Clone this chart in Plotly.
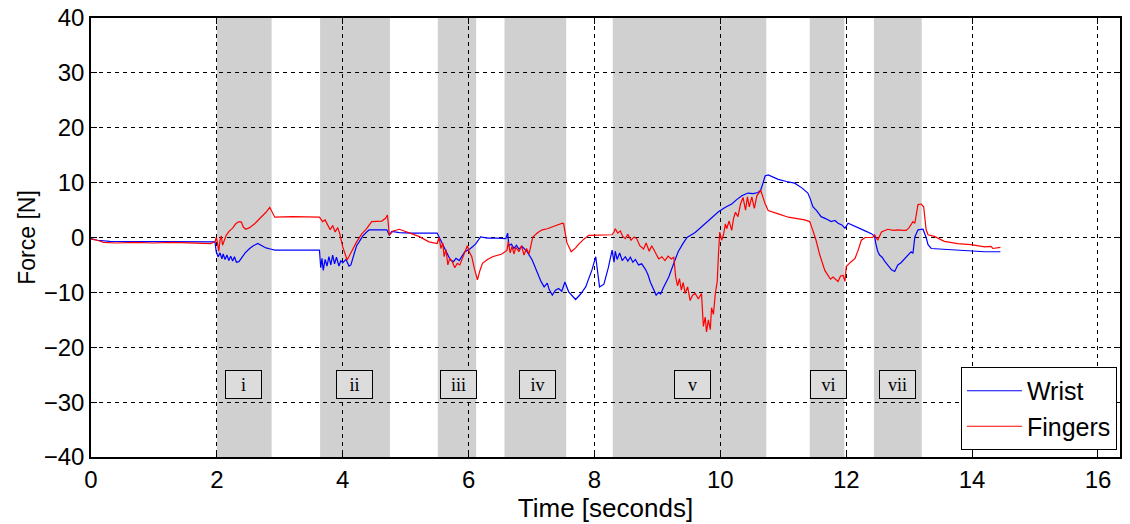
import plotly.graph_objects as go

# Wrist force trace (time in seconds, force in newtons)
wrist_t = [0, 0.1, 0.3, 0.6, 1.0, 1.4, 1.8, 1.97,
           1.99, 2.02, 2.05, 2.08, 2.1, 2.13, 2.16, 2.19, 2.22, 2.25, 2.28, 2.31, 2.35, 2.4, 2.45,
           2.52, 2.58, 2.65, 2.72, 2.78, 2.85, 2.92, 3.2, 3.63,
           3.65, 3.67, 3.69, 3.72, 3.75, 3.78, 3.81, 3.84, 3.87, 3.9, 3.94, 3.97, 4.0, 4.05, 4.1,
           4.13, 4.18, 4.22, 4.26, 4.32, 4.38, 4.42, 4.55, 4.7, 4.74, 4.78, 4.9, 5.1, 5.5,
           5.55, 5.58, 5.64, 5.68, 5.71, 5.76, 5.8, 5.85, 5.9, 5.94, 6.03, 6.11, 6.19, 6.3, 6.45,
           6.59, 6.62, 6.64, 6.68, 6.72, 6.76, 6.8, 6.85, 6.9, 6.93, 7.01, 7.09, 7.15, 7.2, 7.25,
           7.28, 7.33, 7.38, 7.43, 7.48, 7.53, 7.59, 7.7, 7.78, 7.86, 7.96, 8.02, 8.08, 8.15, 8.22,
           8.28, 8.31, 8.33, 8.36, 8.4, 8.44, 8.49, 8.53, 8.57, 8.61, 8.65, 8.7, 8.75, 8.81, 8.85,
           8.89, 8.94, 8.98, 9.02, 9.05, 9.1, 9.18, 9.25, 9.33, 9.4, 9.47, 9.6, 9.76, 9.87, 9.97,
           10.08, 10.18, 10.26, 10.34, 10.44, 10.52, 10.6, 10.64, 10.68, 10.71, 10.76, 10.84,
           10.92, 11.05, 11.18, 11.3, 11.39, 11.43, 11.47, 11.53, 11.6, 11.68, 11.76, 11.82,
           11.87, 11.93, 11.98, 12.03, 12.1, 12.19, 12.3, 12.4, 12.45, 12.47, 12.5, 12.53, 12.57,
           12.61, 12.66, 12.72, 12.77, 12.82, 12.87, 12.93, 12.98, 13.03, 13.06, 13.09, 13.14,
           13.22, 13.27, 13.3, 13.35, 13.5, 13.67, 13.98, 14.2, 14.45]
wrist_f = [-0.2, -0.5, -0.7, -0.7, -0.75, -0.7, -0.75, -0.8,
           -2.6, -3.5, -2.8, -3.9, -3.0, -4.0, -3.2, -4.2, -3.4, -4.3, -3.5, -4.5, -4.4, -3.5, -2.8,
           -2.0, -1.5, -1.1, -1.5, -1.9, -2.1, -2.3, -2.3, -2.3,
           -5.5, -3.8, -6.0, -4.0, -5.2, -3.5, -5.0, -3.2, -4.8, -3.6, -5.2, -4.2, -4.6, -4.0, -5.2,
           -5.0, -3.0, -1.5, -0.8, 0.3, 1.0, 1.4, 1.4, 1.4, 0.45, 1.1, 0.9, 0.8, 0.8,
           -0.3, -1.2, -2.3, -3.2, -4.1, -4.4, -3.8, -4.2, -3.3, -2.6, -2.0, -1.2, 0.1, -0.1, -0.1,
           -0.2, 0.8, -1.5, -1.2, -2.0, -1.4, -2.1, -1.6, -2.3, -2.6, -4.1, -6.5, -8.0, -9.0, -8.3,
           -9.5, -10.5, -9.6, -9.3, -9.8, -8.1, -9.9, -11.3, -10.3, -9.0, -5.9, -3.5, -9.0, -8.5, -5.5,
           -2.3, -4.5, -2.5, -4.0, -2.8, -4.2, -3.5, -4.3, -3.6, -4.5, -4.0, -5.0, -4.8, -5.8, -6.8,
           -8.2, -9.5, -10.5, -10.0, -10.3, -9.0, -7.2, -5.0, -2.6, -1.2, 0.0, 0.9, 2.6, 3.6, 4.7,
           5.5, 6.1, 6.9, 7.6, 8.1, 8.0, 8.2, 8.6, 10.0, 11.2, 11.4, 11.0,
           10.6, 10.2, 9.9, 9.0, 8.1, 7.0, 5.6, 4.9, 3.8, 3.4, 2.9, 3.1,
           2.6, 2.3, 1.7, 2.6, 2.2, 1.7, 1.2, 0.7, 0.2, -1.1, -2.5, -3.2, -3.6,
           -4.3, -5.0, -5.9, -6.2, -5.0, -4.6, -3.8, -3.2, -2.6, -2.9, 0.1, 1.4,
           1.5, 0.0, -1.3, -2.0, -2.1, -2.3, -2.5, -2.6, -2.6]

# Fingers force trace
fingers_t = [0, 0.1, 0.2, 0.4, 0.7, 1.0, 1.3, 1.6, 1.9, 1.97,
             1.99, 2.01, 2.03, 2.05, 2.07, 2.09, 2.12, 2.15, 2.2, 2.25, 2.3, 2.35, 2.39, 2.42, 2.46,
             2.52, 2.6, 2.7, 2.78, 2.84, 2.88, 2.92, 3.2, 3.5, 3.63, 3.68, 3.72, 3.76, 3.8, 3.84,
             3.88, 3.92, 3.95, 4.0, 4.04, 4.07, 4.12, 4.18, 4.22, 4.3, 4.38, 4.46, 4.55, 4.62, 4.68,
             4.71, 4.74, 4.8, 4.9, 5.06, 5.21, 5.37, 5.5, 5.53, 5.56, 5.59, 5.61, 5.64, 5.67, 5.7,
             5.74, 5.78, 5.82, 5.86, 5.9, 5.95, 5.98, 6.01, 6.05, 6.09, 6.14, 6.18, 6.22, 6.3, 6.38,
             6.53, 6.61, 6.63, 6.66, 6.69, 6.72, 6.75, 6.8, 6.84, 6.88, 6.92, 6.96, 6.98, 7.02, 7.1,
             7.17, 7.25, 7.33, 7.41, 7.49, 7.51, 7.56, 7.63, 7.7, 7.75, 7.83, 7.91, 8.1, 8.28, 8.31,
             8.33, 8.37, 8.41, 8.45, 8.49, 8.53, 8.58, 8.63, 8.67, 8.72, 8.78, 8.82, 8.87, 8.91, 8.95,
             9.02, 9.07, 9.12, 9.17, 9.22, 9.26, 9.29, 9.32, 9.35, 9.38, 9.41, 9.44, 9.48, 9.52, 9.56,
             9.6, 9.65, 9.7, 9.73, 9.76, 9.78, 9.81, 9.84, 9.86, 9.89, 9.92, 9.95, 9.97, 9.99, 10.02,
             10.05, 10.08, 10.1, 10.14, 10.18, 10.21, 10.24, 10.28, 10.32, 10.36, 10.4, 10.43, 10.46,
             10.5, 10.54, 10.58, 10.6, 10.64, 10.71, 10.76, 10.92, 11.08, 11.34, 11.42, 11.47, 11.52,
             11.58, 11.62, 11.66, 11.71, 11.75, 11.79, 11.83, 11.87, 11.91, 11.95, 11.98, 12.0, 12.07,
             12.14, 12.19, 12.24, 12.3, 12.42, 12.45, 12.5, 12.56, 12.66, 12.75, 12.82, 12.9, 12.95,
             13.0, 13.06, 13.09, 13.14, 13.19, 13.23, 13.27, 13.3, 13.4, 13.56, 13.77, 13.98, 14.2,
             14.3, 14.33, 14.45]
fingers_f = [-0.3, -0.5, -0.9, -1.0, -0.9, -1.0, -0.9, -1.0, -1.1, -0.8,
             0.0, -1.0, -2.5, -0.5, 0.3, -1.4, -0.3, 0.45, 1.2, 1.7, 2.5, 2.9, 2.8, 1.9, 1.5,
             1.8, 2.5, 3.6, 4.6, 5.5, 4.6, 3.7, 3.8, 3.8, 3.7, 2.9, 3.2, 2.3, 1.4, 2.2,
             1.0, 1.8, 0.8, -1.7, -3.0, -4.1, -3.0, -1.6, -0.8, 0.6, 1.6, 2.9, 2.9, 3.0, 3.5,
             4.1, 0.45, 1.2, 1.5, 0.9, 0.2, -0.8, -1.1, 0.0, -2.0, -1.0, -3.5, -2.2, -5.0, -3.8,
             -4.4, -5.5, -4.7, -5.0, -3.8, -2.3, -1.5, -2.6, -3.5, -5.6, -7.7, -6.0, -4.7, -4.0, -3.5,
             -3.0, -2.3, -0.8, -2.8, -1.6, -3.0, -1.8, -2.6, -1.5, -3.2, -2.0, -3.0, -2.0, 0.1, 0.9,
             1.4, 1.6, 1.9, 2.3, 2.6, 2.5, -0.9, -2.6, -1.9, -1.2, -0.3, 0.4, 0.5, 0.5, 1.0,
             1.6, 0.8, 1.2, 0.2, -0.2, 0.6, -0.5, 0.1, -0.2, -1.5, -2.1, -1.0, -2.5, -1.5, -2.3,
             -3.9, -3.5, -4.2, -3.4, -3.9, -3.6, -7.2, -8.8, -7.5, -9.6, -8.2, -10.2, -9.0, -11.5, -10.5,
             -10.2, -11.2, -10.2, -16.2, -14.5, -17.2, -15.0, -16.8, -12.8, -14.0, -10.2, -8.0, -3.0, 1.0, -0.5,
             0.5, 2.5, 1.6, 3.0, 1.3, 3.5, 4.6, 3.8, 6.1, 7.3, 5.0, 7.4, 5.6,
             7.4, 5.3, 7.6, 8.0, 8.6, 6.2, 4.9, 4.3, 3.7, 3.2, 2.9, 1.3, -0.5,
             -3.2, -4.5, -6.0, -6.9, -7.6, -7.2, -7.6, -8.0, -7.0, -6.9, -8.0, -5.3, -4.5,
             -3.8, -2.3, -0.5, 0.0, 0.0, 0.5, -0.5, 1.0, 1.5, 1.3, 1.4, 1.3, 1.3,
             1.8, 2.9, 2.6, 6.0, 6.1, 5.6, 1.4, 0.5, 0.2, -0.7, -1.1, -1.3, -1.7,
             -1.6, -2.0, -1.8]

# Grasp phases: shaded intervals and their labels
phase_labels = ["i", "ii", "iii", "iv", "v", "vi", "vii"]
phase_start = [2.0, 3.64, 5.51, 6.57, 8.29, 11.42, 12.44]
phase_end = [2.87, 4.75, 6.12, 7.55, 10.73, 11.97, 13.2]
label_t = [2.43, 4.19, 5.84, 7.09, 9.55, 11.72, 12.81]
label_y = -26.7

x_ticks = [0, 2, 4, 6, 8, 10, 12, 14, 16]
y_ticks = [-40, -30, -20, -10, 0, 10, 20, 30, 40]

fig = go.Figure()
fig.add_trace(go.Scatter(x=wrist_t, y=wrist_f, mode="lines", name="Wrist",
                         line=dict(color="#0000ff", width=1.2)))
fig.add_trace(go.Scatter(x=fingers_t, y=fingers_f, mode="lines", name="Fingers",
                         line=dict(color="#ff0000", width=1.2)))

for s, e in zip(phase_start, phase_end):
    fig.add_shape(type="rect", xref="x", yref="y", x0=s, x1=e, y0=-40, y1=40,
                  fillcolor="#d0d0d0", line_width=0, layer="below")

for lab, t in zip(phase_labels, label_t):
    fig.add_annotation(x=t, y=label_y, xref="x", yref="y", text=lab, showarrow=False,
                       font=dict(family="Liberation Serif", size=18, color="black"),
                       bgcolor="#dcdcdc", bordercolor="black", borderwidth=1,
                       width=35, height=27, borderpad=0)

axis_common = dict(showline=True, linecolor="black", linewidth=1.5, mirror="ticks",
                   ticks="inside", ticklen=6, tickcolor="black", tickwidth=1,
                   showgrid=True, gridcolor="black", gridwidth=1.1, griddash="4px,4px",
                   zeroline=False, automargin=False,
                   tickfont=dict(family="Liberation Sans", size=24, color="black"))

fig.update_xaxes(range=[0, 16.35], tickvals=x_ticks, title=dict(text="Time [seconds]",
                 font=dict(family="Liberation Sans", size=26, color="black"), standoff=0),
                 **axis_common)
fig.update_yaxes(range=[-40, 40], tickvals=y_ticks, title=dict(text="Force [N]",
                 font=dict(family="Liberation Sans", size=23, color="black"), standoff=2),
                 **axis_common)

fig.update_layout(
    width=1130, height=524,
    margin=dict(l=91, r=10, t=18, b=67, autoexpand=False),
    plot_bgcolor="white", paper_bgcolor="white",
    showlegend=True,
    legend=dict(x=0.997, y=0.016, xanchor="right", yanchor="bottom",
                bgcolor="white", bordercolor="black", borderwidth=1,
                font=dict(family="Liberation Sans", size=25, color="black"),
                itemwidth=55, tracegroupgap=0),
)

fig.write_html("out.html")
